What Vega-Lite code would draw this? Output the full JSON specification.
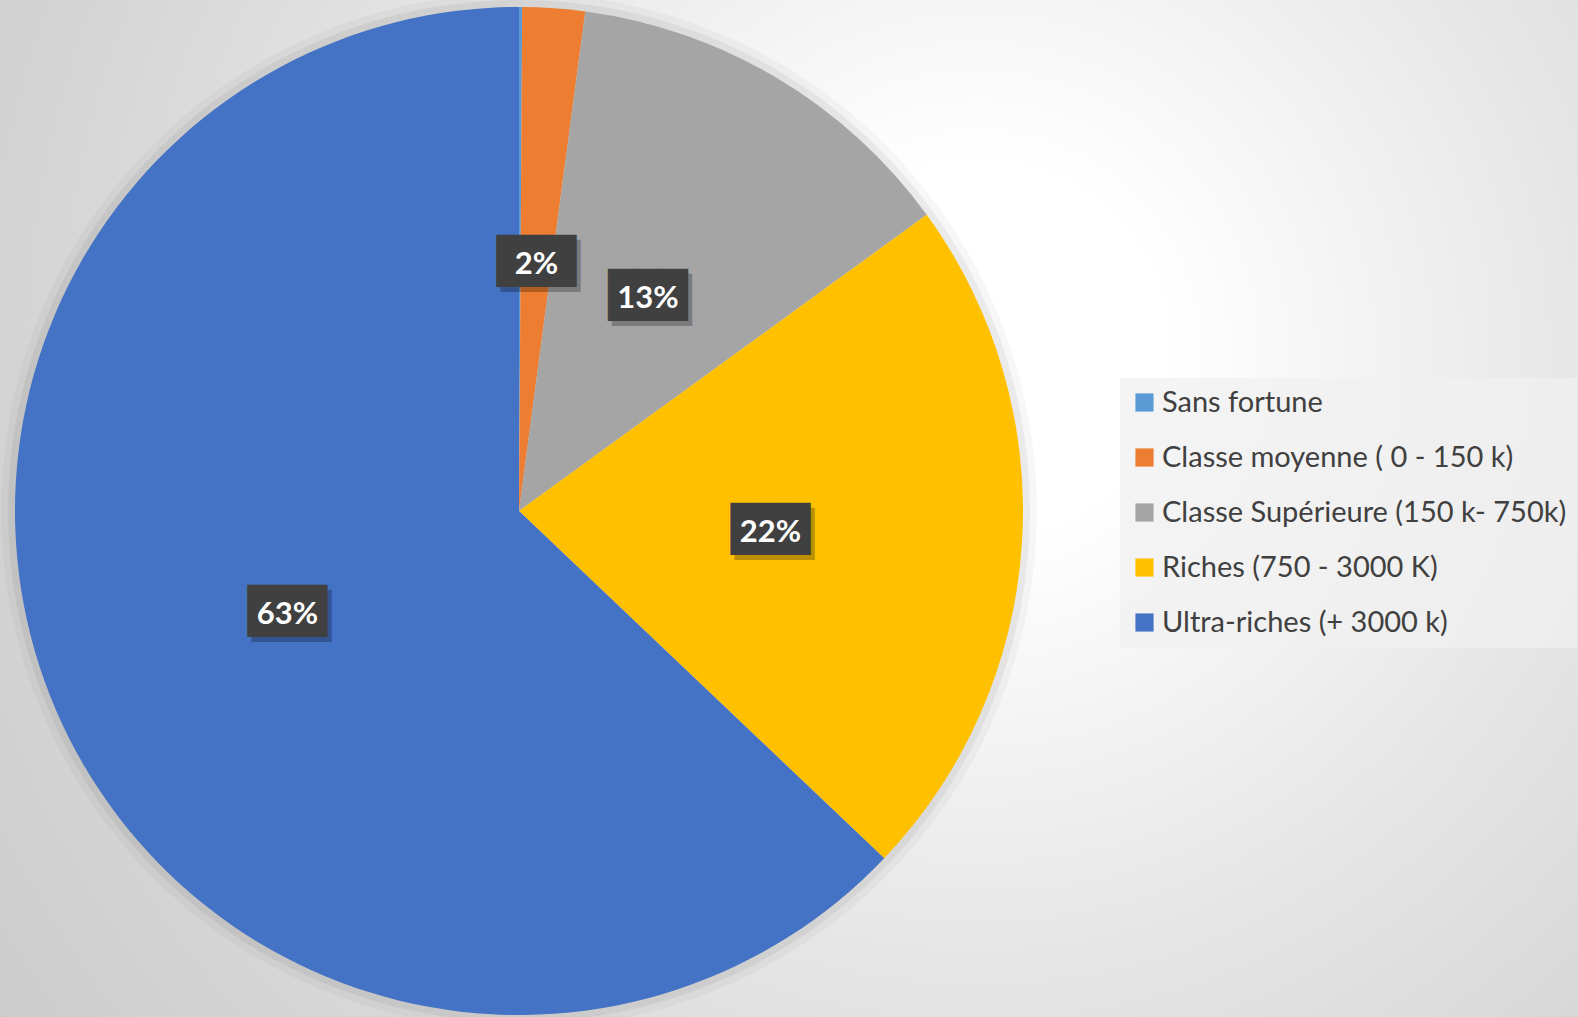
{
  "$schema": "https://vega.github.io/schema/vega-lite/v6.json",
  "width": 1578,
  "height": 1017,
  "autosize": {"type": "none"},
  "padding": 0,
  "background": "#d8d8d8",
  "config": {"view": {"stroke": null}},
  "datasets": {
    "parts": [
      {"categorie": "Sans fortune", "ord": 1, "p": 0.001},
      {"categorie": "Classe moyenne ( 0 - 150 k)", "ord": 2, "p": 0.020},
      {"categorie": "Classe Supérieure (150 k- 750k)", "ord": 3, "p": 0.129},
      {"categorie": "Riches (750 - 3000 K)", "ord": 4, "p": 0.221},
      {"categorie": "Ultra-riches (+ 3000 k)", "ord": 5, "p": 0.629}
    ]
  },
  "layer": [
    {
      "data": {"values": [{}]},
      "mark": {
        "type": "rect",
        "color": {
          "gradient": "radial",
          "x1": 0.62, "y1": 0.4, "r1": 0,
          "x2": 0.62, "y2": 0.4, "r2": 0.85,
          "stops": [
            {"offset": 0, "color": "#ffffff"},
            {"offset": 0.14, "color": "#ffffff"},
            {"offset": 0.45, "color": "#e6e6e6"},
            {"offset": 0.72, "color": "#d4d4d4"},
            {"offset": 1, "color": "#c6c6c6"}
          ]
        }
      },
      "encoding": {}
    },
    {
      "data": {"values": [{}]},
      "mark": {"type": "arc", "x": 519, "y": 511, "theta": 0, "theta2": 6.2832, "outerRadius": 518, "color": "#000000", "opacity": 0.03},
      "encoding": {}
    },
    {
      "data": {"values": [{}]},
      "mark": {"type": "arc", "x": 519, "y": 511, "theta": 0, "theta2": 6.2832, "outerRadius": 511, "color": "#000000", "opacity": 0.05},
      "encoding": {}
    },
    {
      "data": {"name": "parts"},
      "mark": {"type": "arc", "x": 519, "y": 511, "outerRadius": 504, "strokeWidth": 0},
      "encoding": {
        "theta": {"field": "p", "type": "quantitative", "stack": true},
        "order": {"field": "ord", "type": "quantitative"},
        "color": {
          "field": "categorie",
          "type": "nominal",
          "sort": {"field": "ord"},
          "scale": {
            "domain": ["Sans fortune", "Classe moyenne ( 0 - 150 k)", "Classe Supérieure (150 k- 750k)", "Riches (750 - 3000 K)", "Ultra-riches (+ 3000 k)"],
            "range": ["#5B9BD5", "#ED7D31", "#A5A5A5", "#FFC000", "#4472C4"]
          },
          "legend": {
            "title": null,
            "orient": "none",
            "legendX": 1120,
            "legendY": 378,
            "fillColor": "rgba(240,240,240,0.75)",
            "padding": 10,
            "symbolType": "square",
            "symbolSize": 330,
            "symbolStrokeWidth": 0,
            "labelFont": "Lato",
            "labelFontSize": 29,
            "labelColor": "#404040",
            "labelOffset": 3,
            "labelLimit": 0,
            "rowPadding": 25
          }
        }
      }
    },
    {
      "data": {"name": "parts"},
      "mark": {"type": "text", "x": 519, "y": 511, "radius": 252, "text": "███", "font": "DejaVu Sans Mono", "fontSize": 44, "color": "#000000", "dx": 4, "dy": 8, "baseline": "middle", "align": "center"},
      "encoding": {
        "theta": {"field": "p", "type": "quantitative", "stack": true},
        "order": {"field": "ord", "type": "quantitative"},
        "opacity": {"condition": {"test": "datum.p < 0.005", "value": 0}, "value": 0.25}
      }
    },
    {
      "data": {"name": "parts"},
      "mark": {"type": "text", "x": 519, "y": 511, "radius": 252, "text": "███", "font": "DejaVu Sans Mono", "fontSize": 44, "color": "#404040", "dy": 3, "baseline": "middle", "align": "center"},
      "encoding": {
        "theta": {"field": "p", "type": "quantitative", "stack": true},
        "order": {"field": "ord", "type": "quantitative"},
        "opacity": {"condition": {"test": "datum.p < 0.005", "value": 0}, "value": 1}
      }
    },
    {
      "data": {"name": "parts"},
      "mark": {"type": "text", "x": 519, "y": 511, "radius": 252, "font": "Lato", "fontWeight": "bold", "fontSize": 31, "color": "#ffffff", "dy": 5, "baseline": "middle", "align": "center"},
      "encoding": {
        "theta": {"field": "p", "type": "quantitative", "stack": true},
        "order": {"field": "ord", "type": "quantitative"},
        "text": {"field": "p", "type": "quantitative", "format": ".0%"},
        "opacity": {"condition": {"test": "datum.p < 0.005", "value": 0}, "value": 1}
      }
    }
  ]
}
